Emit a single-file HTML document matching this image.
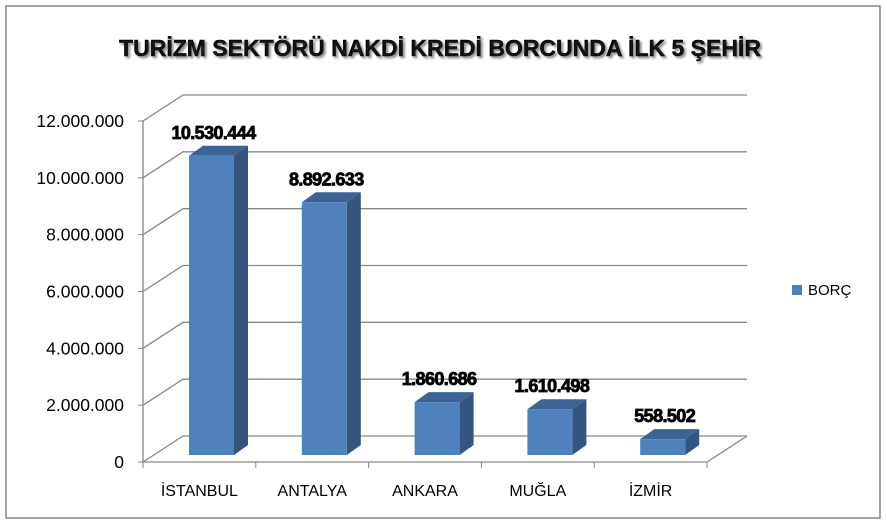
<!DOCTYPE html>
<html><head><meta charset="utf-8"><style>
body{margin:0;background:#fff;}
svg{display:block;font-family:"Liberation Sans",sans-serif;}
</style></head><body>
<svg id="c" width="887" height="524">
<rect x="6" y="6" width="874" height="512" fill="#fff" stroke="#868686" stroke-width="1.5"/>
<text x="440" y="56" text-anchor="middle" font-size="23" font-weight="bold" fill="#000" stroke="#000" stroke-width="0.4" style="text-shadow:2px 2px 2px #888">TURİZM SEKTÖRÜ NAKDİ KREDİ BORCUNDA İLK 5 ŞEHİR</text>
<g id="grid"></g><g id="bars"></g><g id="axes"></g>
<rect x="792" y="285" width="10" height="10" fill="#4f81bd"/>
<text x="808" y="295" font-size="15" fill="#000">BORÇ</text>
</svg>
<script>
const categories=["İSTANBUL","ANTALYA","ANKARA","MUĞLA","İZMİR"];
const values=[10530444,8892633,1860686,1610498,558502];
const valueLabels=["10.530.444","8.892.633","1.860.686","1.610.498","558.502"];
const ticks=[0,2000000,4000000,6000000,8000000,10000000,12000000];
const tickLabels=["0","2.000.000","4.000.000","6.000.000","8.000.000","10.000.000","12.000.000"];
const NS="http://www.w3.org/2000/svg";
const x0=143,x1=707,y0=462,ppu=341/12000000,dx=40,dy=-26;
const y=v=>y0-v*ppu;
const band=(x1-x0)/categories.length;
function mk(t,a,p){const e=document.createElementNS(NS,t);for(const k in a)e.setAttribute(k,a[k]);p.appendChild(e);return e;}
const G=document.getElementById('grid'),B=document.getElementById('bars'),A=document.getElementById('axes');
ticks.forEach((t,i)=>{
 const yy=y(t);
 const g=mk('polyline',{points:`${x0},${yy} ${x0+dx},${yy+dy} ${x1+dx},${yy+dy}`,fill:'none',stroke:'#868686','stroke-width':1.3},G);
 
 
 const tk=mk('line',{x1:x0-5,y1:yy,x2:x0,y2:yy,stroke:'#868686'},A);
 
 
 const tl=mk('text',{x:x0-19,y:yy+6,'text-anchor':'end','font-size':17.5},A);
 tl.textContent=tickLabels[i];
 
 
});
const ax=mk('line',{x1:x0,y1:y(ticks[ticks.length-1]),x2:x0,y2:y0,stroke:'#868686','stroke-width':1.3},A);


const fl=mk('polyline',{points:`${x0},${y0} ${x1},${y0} ${x1+dx},${y0+dy}`,fill:'none',stroke:'#868686','stroke-width':1.3},A);


for(let i=0;i<=categories.length;i++){
 const tx=x0+i*band;
 const t=mk('line',{x1:tx,y1:y0,x2:tx,y2:y0+6,stroke:'#868686'},A);
 
 
}
const bw=45,sx=14,sy=-10,base=y0-7;
values.forEach((v,i)=>{
 const bx=x0+i*band+46,top=base-v*ppu;
 const g=mk('g',{},B);
 
 
 mk('polygon',{points:`${bx+bw},${top} ${bx+bw+sx},${top+sy} ${bx+bw+sx},${base+sy} ${bx+bw},${base}`,fill:'#33557f'},g);
 mk('polygon',{points:`${bx},${top} ${bx+sx},${top+sy} ${bx+bw+sx},${top+sy} ${bx+bw},${top}`,fill:'#3c6394'},g);
 mk('rect',{x:bx,y:top,width:bw,height:base-top,fill:'#4f81bd'},g);
 const l=mk('text',{x:bx+bw/2+2,y:top-17,'text-anchor':'middle','font-size':18,'font-weight':'bold',fill:'#000',stroke:'#000','stroke-width':0.8,style:'letter-spacing:-0.6px'},B);
 l.textContent=valueLabels[i];
 
 
 const c=mk('text',{x:x0+i*band+band/2,y:496,'text-anchor':'middle','font-size':16},A);
 c.textContent=categories[i];
 
 
});
</script>
</body></html>
